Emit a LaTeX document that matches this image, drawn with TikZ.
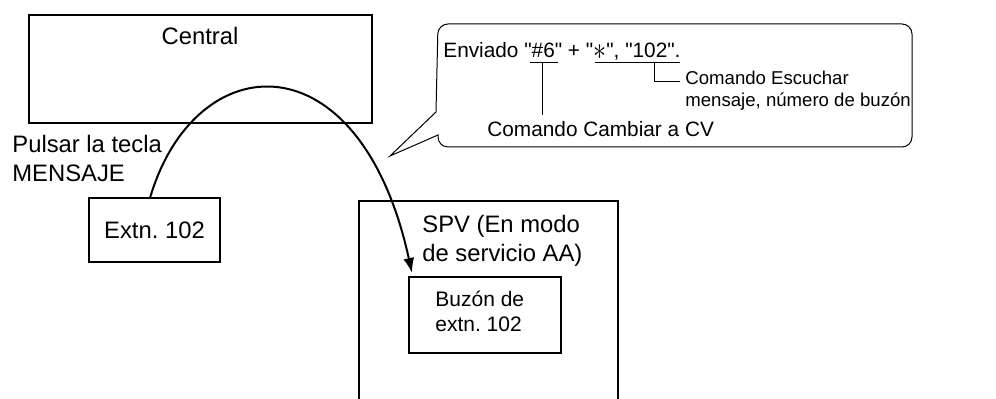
\documentclass[tikz,border=0pt]{standalone}
\usepackage{fontspec}
\setmainfont{Liberation Sans}[Ligatures=TeXOff]
\usetikzlibrary{arrows.meta}

\tikzset{
  box/.style={draw, line width=0.6pt, inner sep=0pt, outer sep=0pt, anchor=north west},
  lbl/.style={inner sep=0pt, align=left, font=\fontsize{11.9}{14.7}\selectfont},
  note/.style={inner sep=0pt, align=left, font=\fontsize{10.4}{12.5}\selectfont},
  small/.style={inner sep=0pt, align=left, font=\fontsize{9.3}{11}\selectfont},
  flow/.style={line width=1pt, -{Latex[length=7.5pt,width=5.5pt]}}
}

\begin{document}
\begin{tikzpicture}[x=0.5pt, y=-0.5pt]
    \useasboundingbox (0,0) rectangle (996,399);
    \node[box, minimum width=171.5pt, minimum height=54pt] (central) at (29,15) {};
    \node[lbl, anchor=base] (centraltxt) at (200,45) {Central};
    \node[lbl, anchor=base west] (pulsar) at (12,182) {Pulsar la tecla\\MENSAJE};
    \node[box, minimum width=65.5pt, minimum height=32pt, font=\fontsize{11.9}{14.7}\selectfont] (extn) at (89,198) {Extn.\ 102};
    \draw[line width=0.6pt] (359,399) -- (359,201) -- (618,201) -- (618,399);
    \node[lbl, anchor=base west] (spv) at (422,262) {SPV (En modo\\de servicio AA)};
    \node[box, minimum width=76pt, minimum height=38pt] (buzon) at (409,277) {};
    \node[lbl, anchor=base west, font=\fontsize{10.5}{12.5}\selectfont] (buzontxt) at (435,332) {Buzón de\\extn.\ 102};
    \draw[flow] ([xshift=-2.25pt]extn.north) .. controls (195,45) and (360,35) .. ([shift={(1.5pt,2pt)}]buzon.north west);
    \draw[line width=0.5pt] (438,135) -- (390,156) -- (436,112) {[rounded corners=5pt] -- (438,24) -- (912,24) -- (912,147) -- (438,147)} -- cycle;
    \node[note, anchor=base west] (sent) at (443,58) {Enviado "\#6" + "\raisebox{-0.05em}{\scalebox{1.3}[1.6]{$\ast$}}", "102".};
    \node[note, anchor=base west] (cmdcv) at (487,137) {Comando Cambiar a CV};
    \node[small, anchor=base west] (listen) at (685,107) {Comando Escuchar\\mensaje, número de buzón};
    \coordinate (hashmid) at (542,63);
    \coordinate (bracket) at (654,63);
    \draw[line width=0.5pt] (530,63) -- (558,63);
    \draw[line width=0.5pt] (595,63) -- (680,63);
    \draw[line width=0.5pt, shorten >=3.5pt] (hashmid) -- (hashmid |- cmdcv.north);
    \draw[line width=0.5pt] (bracket) |- (680,82);
\end{tikzpicture}
\end{document}
